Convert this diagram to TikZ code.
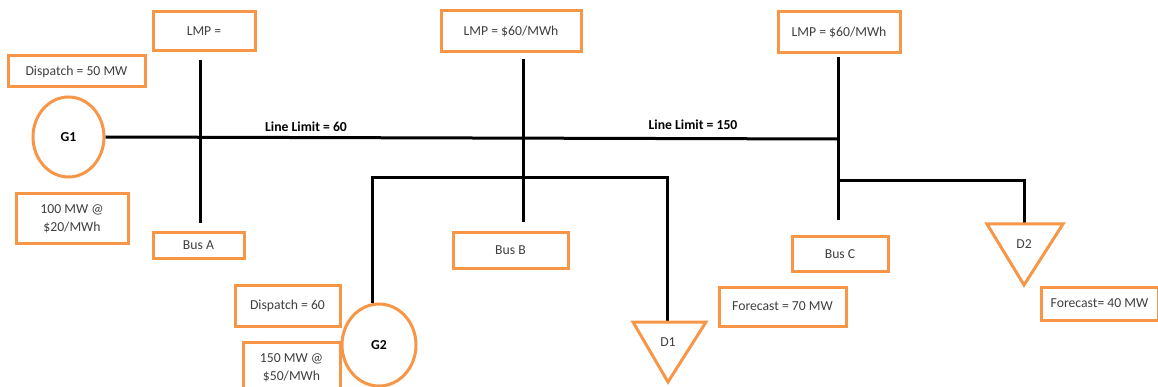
\documentclass[tikz,border=0pt]{standalone}
\usepackage{fontspec}
\setmainfont{Carlito}
\usetikzlibrary{shapes.geometric}
\definecolor{boxorange}{HTML}{F79646}
\definecolor{boxtext}{HTML}{404040}
\begin{document}
\begin{tikzpicture}[x=1pt,y=-1pt,
  box/.style={draw=boxorange, line width=3pt, fill=white, text=boxtext,
    inner sep=0pt, align=center, font=\fontsize{13.7}{18.5}\selectfont},
  gen/.style={draw=boxorange, line width=3pt, ellipse, inner sep=0pt,
    font=\fontsize{13.7}{15}\selectfont\bfseries},
  loadtri/.style={draw=boxorange, line width=3pt, line join=miter},
  wire/.style={draw=black, line width=3pt},
  lbl/.style={font=\fontsize{13.7}{15}\selectfont\bfseries, inner sep=0pt},
  loadlbl/.style={font=\fontsize{13.7}{15}\selectfont, text=boxtext, inner sep=0pt}]
\useasboundingbox (0,0) rectangle (1158,387);

% generators
\node[gen, minimum width=71, minimum height=80] (G1) at (68.5,137) {G1};
\node[gen, minimum width=74, minimum height=82] (G2) at (379,345) {G2};

% bus coordinates
\coordinate (aT) at (200,60);  \coordinate (aB) at (200,223);
\coordinate (bT) at (523,59);  \coordinate (bB) at (523,222);
\coordinate (cT) at (838,57);  \coordinate (cB) at (838,220);
\coordinate (cM) at (838,139);
\coordinate (cJ) at (838,181);
\coordinate (g2c1) at (372,178);
\coordinate (g2c2) at (667,178);
\coordinate (d1top) at (667,322);
\coordinate (d2c) at (1024,181);
\coordinate (d2top) at (1024,224);

% wires
\draw[wire] (aT) -- (aB);
\draw[wire] (bT) -- (bB);
\draw[wire] (cT) -- (cB);
\draw[wire] (G1.east) -- (cM);
\draw[wire] (cJ) -- (d2c) -- (d2top);
\draw[wire] (G2.north -| g2c1) -- (g2c1) -- (g2c2) -- (d1top);

% loads
\draw[loadtri] (633,322) -- (706,322) -- (668,382) -- cycle;
\draw[loadtri] (987,224) -- (1063,224) -- (1024,285) -- cycle;
\node[loadlbl] (D1) at (668,342) {D1};
\node[loadlbl] (D2) at (1024,244) {D2};

% line labels
\node[lbl] (ll1) at (306,127) {Line Limit = 60};
\node[lbl] (ll2) at (693,125) {Line Limit = 150};

% boxes
\node[box, minimum width=102, minimum height=39] (lmpA) at (204,31.5) {LMP =};
\node[box, minimum width=137, minimum height=31] (disp1) at (76.5,71.5) {Dispatch = 50 MW};
\node[box, minimum width=112, minimum height=50] (cost1) at (72,219) {100 MW @\\\$20/MWh};
\node[box, minimum width=91, minimum height=25] (busA) at (198.5,245.5) {Bus A};
\node[box, minimum width=140, minimum height=41] (lmpB) at (511,31.5) {LMP = \$60/MWh};
\node[box, minimum width=115, minimum height=35] (busB) at (510.5,250.5) {Bus B};
\node[box, minimum width=122, minimum height=41] (lmpC) at (839,32.5) {LMP = \$60/MWh};
\node[box, minimum width=96, minimum height=34] (busC) at (840,254) {Bus C};
\node[box, minimum width=127, minimum height=39] (fc1) at (782.5,306.5) {Forecast = 70 MW};
\node[box, minimum width=117, minimum height=33] (fc2) at (1099.5,303.5) {Forecast= 40 MW};
\node[box, minimum width=105, minimum height=41] (disp2) at (287.5,305.5) {Dispatch = 60};
\node[box, minimum width=97, minimum height=52] (cost2) at (291.5,368) {150 MW @\\\$50/MWh};
\end{tikzpicture}
\end{document}
